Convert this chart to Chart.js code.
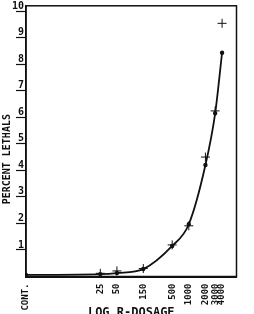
<!DOCTYPE html>
<html>
<head>
<meta charset="utf-8">
<script src="https://cdn.jsdelivr.net/npm/chart.js@4/dist/chart.umd.min.js"></script>
<style>
  html, body { margin: 0; padding: 0; background: #fff; }
  #wrap { width: 254px; height: 314px; }
</style>
</head>
<body>
<div id="wrap"><canvas id="lethals"></canvas></div>
<script>
// dose axis (log), CONT. sits at the left edge
const xTickValues = [1.13, 25, 50, 150, 500, 1000, 2000, 3000, 4000];
const xTickLabels = ['CONT.', '25', '50', '150', '500', '1000', '2000', '3000', '4000'];
const yTickValues = [1, 2, 3, 4, 5, 6, 7, 8, 9, 10];

// observed points (+)
const doses = [25, 50, 150, 500, 1000, 2000, 3000, 4000];
const observed = [0.12, 0.21, 0.30, 1.19, 1.91, 4.5, 6.24, 9.54];

// fitted curve
const curveDoses = [1.13, 25, 50, 150, 500, 1000, 2000, 3000, 4000];
const fitted = [0.06, 0.09, 0.13, 0.28, 1.15, 1.97, 4.2, 6.15, 8.43];

const FONT = "'DejaVu Sans Mono', monospace";

const frame = {
    id: 'frame',
    afterDraw(chart) {
        const { ctx, chartArea } = chart;
        ctx.save();
        ctx.strokeStyle = '#111';
        ctx.lineWidth = 1.5;
        ctx.strokeRect(chartArea.left, chartArea.top, chartArea.right - chartArea.left, chartArea.bottom - chartArea.top);
        ctx.restore();
    }
};

new Chart(document.getElementById('lethals'), {
    type: 'scatter',
    data: {
        datasets: [
            {
                label: 'fitted',
                data: curveDoses.map((d, i) => ({ x: d, y: fitted[i] })),
                showLine: true,
                borderColor: '#111',
                backgroundColor: '#111',
                borderWidth: 1.8,
                pointRadius: 1.3,
                cubicInterpolationMode: 'monotone',
            },
            {
                label: 'observed',
                data: doses.map((d, i) => ({ x: d, y: observed[i] })),
                pointStyle: 'cross',
                pointRadius: 4.5,
                borderColor: '#111',
                borderWidth: 1,
            },
        ],
    },
    options: {
        responsive: true,
        maintainAspectRatio: false,
        animation: false,
        layout: { padding: { top: 1, right: 17.5, left: 0, bottom: 0 } },
        plugins: { legend: { display: false }, tooltip: { enabled: false } },
        scales: {
            x: {
                type: 'logarithmic',
                min: 1.13,
                max: 7300,
                afterBuildTicks: (scale) => { scale.ticks = xTickValues.map(v => ({ value: v })); },
                afterFit: (scale) => { scale.height = 37.5; },
                grid: { drawOnChartArea: false, drawTicks: false },
                border: { color: '#111', width: 2 },
                ticks: {
                    autoSkip: false,
                    minRotation: 90,
                    maxRotation: 90,
                    padding: 7,
                    color: '#111',
                    font: { family: FONT, size: 9, weight: 'bold' },
                    callback: (v, i) => xTickLabels[i],
                },
                title: {
                    display: true,
                    text: 'LOG R-DOSAGE',
                    color: '#111',
                    font: { family: FONT, size: 12, weight: 'bold' },
                    padding: { top: 0, bottom: -6 },
                },
            },
            y: {
                min: 0,
                max: 10.2,
                afterBuildTicks: (scale) => { scale.ticks = yTickValues.map(v => ({ value: v })); },
                afterFit: (scale) => { scale.width = 26; },
                grid: { drawOnChartArea: false, tickLength: 10, tickColor: '#111', tickWidth: 1.2 },
                border: { color: '#111', width: 1.5 },
                ticks: {
                    padding: -8,
                    labelOffset: -5,
                    color: '#111',
                    font: { family: FONT, size: 10, weight: 'bold' },
                    callback: (v) => String(v),
                },
                title: {
                    display: true,
                    text: 'PERCENT LETHALS      ',
                    color: '#111',
                    font: { family: FONT, size: 10, weight: 'bold' },
                    padding: { top: 1, bottom: 0 },
                },
            },
        },
    },
    plugins: [frame],
});
</script>
</body>
</html>
